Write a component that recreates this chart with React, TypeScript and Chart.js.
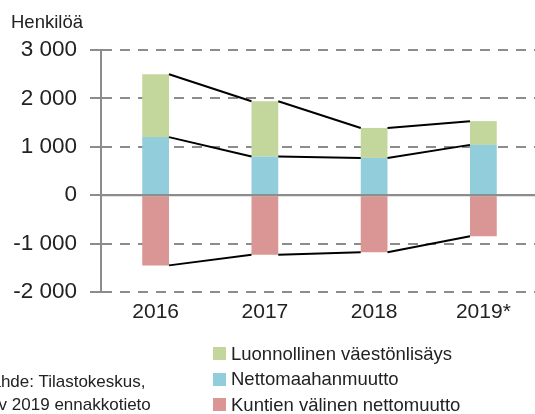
import React, { useEffect, useRef } from 'react';
import { Chart, registerables } from 'chart.js';

Chart.register(...registerables);

const years = ['2016', '2017', '2018', '2019*'];
const naturalIncrease = [1300, 1140, 620, 490];
const netImmigration = [1200, 800, 770, 1040];
const netMunicipal = [-1450, -1230, -1180, -850];
const seriesNames = ['Luonnollinen väestönlisäys', 'Nettomaahanmuutto', 'Kuntien välinen nettomuutto'];
const seriesColors = ['#C3D69B', '#92CDDC', '#D99694'];
const yMin = -2000;
const yMax = 3000;
const yStep = 1000;
const unitLabel = 'Henkilöä';
const sourceLines = ['Lähde: Tilastokeskus,', '*v 2019 ennakkotieto'];

const FONT = "'Liberation Sans', Arial, sans-serif";
const GRID = '#8c8c8c';
const TEXT = '#222';

const fmt = (v: number) => {
  const s = Math.abs(v).toString().replace(/\B(?=(\d{3})+(?!\d))/g, '\u00a0');
  return (v < 0 ? '-' : '') + s;
};

const seriesLines = {
  id: 'seriesLines',
  afterDatasetsDraw(chart: any) {
    const ctx = chart.ctx;
    const { left, right } = chart.chartArea;
    const y0 = chart.scales.y.getPixelForValue(0);
    ctx.save();
    ctx.strokeStyle = GRID;
    ctx.lineWidth = 2;
    ctx.beginPath();
    ctx.moveTo(left, y0);
    ctx.lineTo(right, y0);
    ctx.stroke();
    ctx.strokeStyle = '#000';
    ctx.lineWidth = 2;
    chart.data.datasets.forEach((_: any, di: number) => {
      const els = chart.getDatasetMeta(di).data;
      for (let i = 0; i < els.length - 1; i++) {
        const a = els[i];
        const b = els[i + 1];
        ctx.beginPath();
        ctx.moveTo(a.x + a.width / 2, a.y);
        ctx.lineTo(b.x - b.width / 2, b.y);
        ctx.stroke();
      }
    });
    ctx.restore();
  },
};

export default function App() {
  const ref = useRef<HTMLCanvasElement>(null);
  useEffect(() => {
    if (!ref.current) return;
    const chart = new Chart(ref.current, {
      type: 'bar',
      data: {
        labels: years,
        datasets: [
          { label: seriesNames[1], data: netImmigration, backgroundColor: seriesColors[1] },
          { label: seriesNames[0], data: naturalIncrease, backgroundColor: seriesColors[0] },
          { label: seriesNames[2], data: netMunicipal, backgroundColor: seriesColors[2] },
        ],
      },
      options: {
        responsive: false,
        animation: false,
        devicePixelRatio: 1,
        layout: { padding: { left: 0, top: 50, right: 7, bottom: 0 } },
        datasets: { bar: { categoryPercentage: 1, barPercentage: 0.245, borderWidth: 0 } },
        plugins: { legend: { display: false }, tooltip: { enabled: false }, title: { display: false } },
        scales: {
          x: {
            stacked: true,
            grid: { display: false, drawTicks: false },
            border: { display: false },
            ticks: { color: TEXT, font: { family: FONT, size: 21 }, padding: 8 },
            afterFit: (s: any) => { s.height = 122; },
          },
          y: {
            stacked: true,
            min: yMin,
            max: yMax,
            ticks: {
              stepSize: yStep,
              color: TEXT,
              font: { family: FONT, size: 22.5 },
              padding: 13,
              callback: (v: any) => fmt(Number(v)),
            },
            grid: {
              color: GRID,
              lineWidth: 2,
              tickLength: 11,
              tickColor: GRID,
              tickWidth: 2,
            },
            border: {
              display: true,
              color: GRID,
              width: 2,
              dash: (c: any) => (c.tick && c.tick.value === 0 ? [] : [10, 8]),
            },
            afterFit: (s: any) => { s.width = 101; },
          },
        },
      },
      plugins: [seriesLines],
    });
    return () => chart.destroy();
  }, []);

  const legendOrder = [0, 1, 2];
  const legendCenters = [353.5, 379, 404.5];
  return (
    <div style={{ position: 'absolute', left: 0, top: 0, width: 535, height: 414, overflow: 'hidden', background: '#fff', fontFamily: FONT, color: TEXT }}>
      <canvas ref={ref} width={545} height={414} style={{ position: 'absolute', left: 0, top: 0 }} />
      <div style={{ position: 'absolute', left: 11, top: 22 - 11, fontSize: 18.5, lineHeight: '22px', whiteSpace: 'nowrap' }}>{unitLabel}</div>
      {legendOrder.map((si, k) => (
        <div key={si} style={{ position: 'absolute', left: 213, top: legendCenters[k] - 12, height: 24, display: 'flex', alignItems: 'center', whiteSpace: 'nowrap' }}>
          <span style={{ display: 'inline-block', width: 13, height: 13, background: seriesColors[si], marginRight: 5 }} />
          <span style={{ fontSize: 18.5, lineHeight: '24px' }}>{seriesNames[si]}</span>
        </div>
      ))}
      <div style={{ position: 'absolute', left: -18, top: 381.5 - 11, fontSize: 17, lineHeight: '22px', whiteSpace: 'nowrap' }}>{sourceLines[0]}</div>
      <div style={{ position: 'absolute', left: -8, top: 405 - 11, fontSize: 17, lineHeight: '22px', whiteSpace: 'nowrap' }}>{sourceLines[1]}</div>
    </div>
  );
}
